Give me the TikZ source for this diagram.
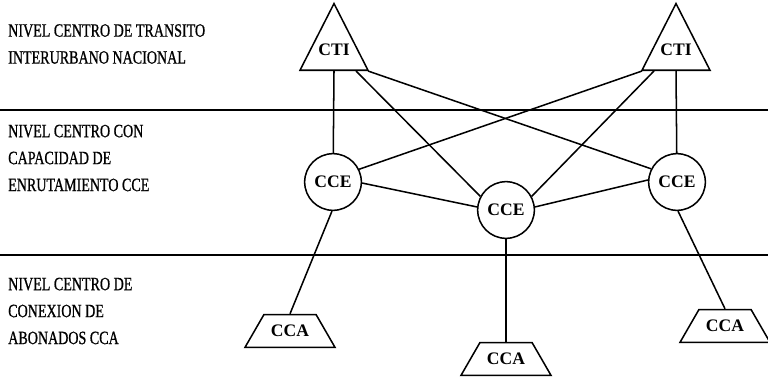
\documentclass[tikz,border=0pt]{standalone}
\usepackage{fontspec}
\setmainfont{Liberation Serif}
\newfontfamily\levelfont[FakeStretch=0.75,FakeBold=0.8]{Liberation Serif}
\usetikzlibrary{shapes.geometric,calc}

\tikzset{
    link/.style={line width=1.3pt},
    levelline/.style={line width=1.1pt},
    levellabel/.style={anchor=west, align=left, inner sep=0pt, font=\levelfont\fontsize{16}{23}\selectfont},
    ctibox/.style={isosceles triangle, isosceles triangle stretches, shape border rotate=90, draw, line width=1.3pt, minimum width=2.04cm, minimum height=2.0cm, inner sep=0pt, text depth=9pt, anchor=lower side, font=\bfseries\fontsize{15}{15}\selectfont},
    ccebox/.style={circle, draw, line width=1.3pt, minimum size=1.7cm, inner sep=0pt, font=\bfseries\fontsize{15}{15}\selectfont},
    ccabox/.style={trapezium, trapezium left angle=60, trapezium right angle=60, draw, line width=1.3pt, inner xsep=6pt, inner ysep=9pt, font=\bfseries\fontsize{15}{15}\selectfont}
}

\begin{document}
\begin{tikzpicture}[x=0.03cm, y=-0.03cm]
\useasboundingbox (0,0) rectangle (768,382);

% Level separators
\draw[levelline] (0,110) -- (768,110);
\draw[levelline] (0,255) -- (768,255);

% Level labels
\node[levellabel] (lvlcti) at (8,44) {NIVEL CENTRO DE TRANSITO\\INTERURBANO NACIONAL};
\node[levellabel] (lvlcce) at (8,158) {NIVEL CENTRO CON\\CAPACIDAD DE\\ENRUTAMIENTO CCE};
\node[levellabel] (lvlcca) at (8,311) {NIVEL CENTRO DE\\CONEXION DE\\ABONADOS CCA};

% Transit centres
\node[ctibox] (ctiL) at (334,71) {CTI};
\node[ctibox] (ctiR) at (676,71) {CTI};

% Routing centres
\node[ccebox] (cceL) at (333,182) {CCE};
\node[ccebox] (cceM) at (506,210) {CCE};
\node[ccebox] (cceR) at (677,182) {CCE};

% Subscriber centres
\node[ccabox] (ccaL) at (290,331) {CCA};
\node[ccabox] (ccaM) at (506,359) {CCA};
\node[ccabox] (ccaR) at (725,326) {CCA};

% CTI - CCE links
\draw[link] (ctiL.lower side) -- (cceL);
\draw[link] ($(ctiL.lower side)+(22,0)$) -- (cceM.152);
\draw[link] ($(ctiL.lower side)+(34,0)$) -- (cceR.153);
\draw[link] (ctiR.lower side) -- (cceR);
\draw[link] ($(ctiR.lower side)+(-22,0)$) -- (cceM.28);
\draw[link] ($(ctiR.lower side)+(-34,0)$) -- (cceL.26);

% CCE - CCE links
\draw[link] (cceL.-2) -- (cceM.174);
\draw[link] (cceM.6) -- (cceR.176);

% CCE - CCA links
\draw[link] (cceL.268) -- (ccaL.top side);
\draw[link] (cceM.270) -- (ccaM.top side);
\draw[link] (cceR.272) -- (ccaR.top side);

\end{tikzpicture}
\end{document}
